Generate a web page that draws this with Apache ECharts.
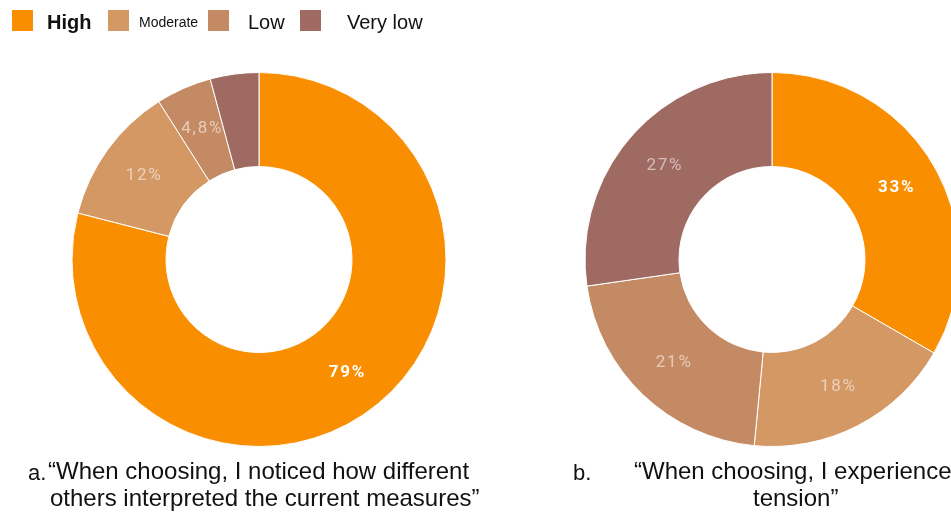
<!DOCTYPE html>
<html>
<head>
<meta charset="utf-8">
<style>
  html, body { margin: 0; padding: 0; background: #fff; }
  #chart { width: 951px; height: 514px; }
</style>
<script src="https://cdn.jsdelivr.net/npm/echarts@6/dist/echarts.min.js"></script>
</head>
<body>
<div id="chart"></div>
<script>
// Response levels and their colours
const levels = ['High', 'Moderate', 'Low', 'Very low'];
const levelColors = ['#f98e00', '#d49865', '#c48a64', '#9f6a61'];

// Share of answers (%) per level, for each statement
const noticedValues = [79, 12, 4.8, 4.2];
const tensionValues = [33, 18, 21, 27];

// Which slices carry a value label
const noticedLabelled = [true, true, true, false];
const tensionLabelled = [true, true, true, true];

const chart = echarts.init(document.getElementById('chart'), null, { renderer: 'canvas' });

// Slightly spaced percentage text, e.g. "4,8%"
function percentText(v) {
  return (String(v).replace('.', ',') + '%').split('').join('\u200A');
}

function sliceData(values, labelled) {
  return levels.map((name, i) => ({
    name: name,
    value: values[i],
    itemStyle: { color: levelColors[i] },
    label: i === 0
      ? { show: labelled[i], color: '#ffffff', fontWeight: 'bold' }
      : { show: labelled[i], color: 'rgba(255,255,255,0.55)', fontWeight: 'normal' }
  }));
}

function donut(center, values, labelled) {
  return {
    type: 'pie',
    center: center,
    radius: [93, 187],
    startAngle: 90,
    clockwise: true,
    avoidLabelOverlap: false,
    silent: true,
    itemStyle: { borderColor: '#ffffff', borderWidth: 1 },
    label: {
      position: 'inside',
      fontFamily: 'Roboto',
      fontSize: 17,
      formatter: p => percentText(p.value)
    },
    labelLine: { show: false },
    data: sliceData(values, labelled)
  };
}

// One legend block per level so each entry keeps its own text style and spacing
const legendSpec = [
  { left: 10, pad: 8, size: 20, weight: 'bold' },
  { left: 106, pad: 4, size: 14, weight: 'normal' },
  { left: 206, pad: 13, size: 20, weight: 'normal' },
  { left: 298, pad: 20, size: 20, weight: 'normal' }
];
const legends = levels.map((name, i) => ({
  data: [name],
  left: legendSpec[i].left,
  top: 8,
  padding: 0,
  icon: 'rect',
  itemWidth: 23,
  itemHeight: 23,
  selectedMode: false,
  formatter: n => '{t|' + n + '}',
  textStyle: {
    rich: {
      t: {
        fontFamily: 'Liberation Sans, Arial, sans-serif',
        fontSize: legendSpec[i].size,
        fontWeight: legendSpec[i].weight,
        color: '#111111',
        padding: [6, 0, 0, legendSpec[i].pad]
      }
    }
  }
}));

const captionFont = { fontFamily: 'Liberation Sans, Arial, sans-serif', fill: '#111111' };

function caption(text, left, top, size) {
  return { type: 'text', left: left, top: top, style: Object.assign({ text: text, fontSize: size }, captionFont) };
}

chart.setOption({
  animation: false,
  legend: legends,
  series: [
    donut([259, 259.5], noticedValues, noticedLabelled),
    donut([772, 259.5], tensionValues, tensionLabelled)
  ],
  graphic: [
    caption('a.', 28, 463, 22),
    caption('\u201CWhen choosing, I noticed how different', 48, 460, 24),
    caption('others interpreted the current measures\u201D', 50, 487, 24),
    caption('b.', 573, 463, 22),
    caption('\u201CWhen choosing, I experienced', 634, 460, 24),
    caption('tension\u201D', 753, 487, 24)
  ]
});
</script>
</body>
</html>
